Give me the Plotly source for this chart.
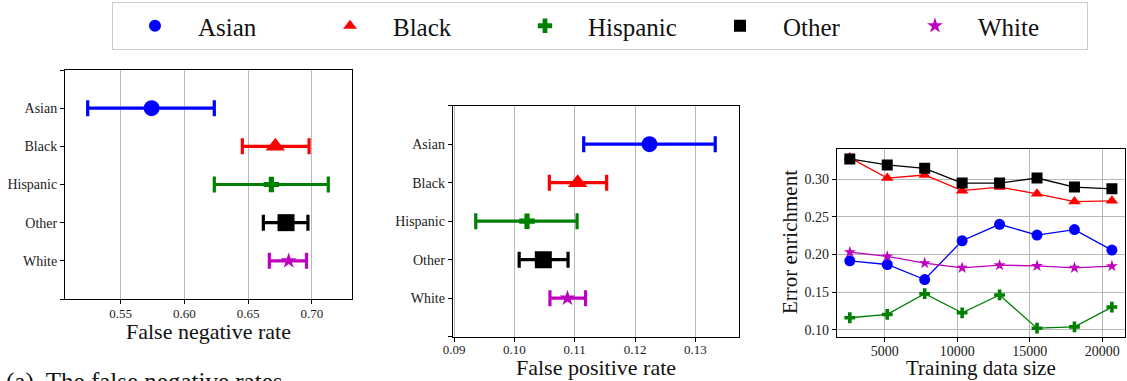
import plotly.graph_objects as go

W, H = 1127, 381
FONT = "Liberation Serif"

groups = ["Asian", "Black", "Hispanic", "Other", "White"]
colors = ["#0000ff", "#ff0000", "#008000", "#000000", "#bf00bf"]
symbols = ["circle", "triangle-up", "cross", "square", "star"]
big_sizes = [16, 17, 13, 17, 12]
small_sizes = [11, 11, 9, 11, 9]

# Panel (a): false negative rate, lower / point / upper
fnr_point = [0.5743, 0.6714, 0.6683, 0.6798, 0.6819]
fnr_low = [0.5241, 0.6455, 0.6235, 0.6620, 0.6667]
fnr_high = [0.6235, 0.6979, 0.7130, 0.6970, 0.6959]

# Panel (b): false positive rate
fpr_point = [0.1224, 0.1105, 0.1021, 0.1048, 0.1088]
fpr_low = [0.1115, 0.1058, 0.0936, 0.1008, 0.1059]
fpr_high = [0.1333, 0.1153, 0.1104, 0.1089, 0.1118]

# Panel (c): error enrichment vs training data size
train_size = [2583, 5166, 7749, 10332, 12915, 15498, 18081, 20664]
enrichment = {
    "Asian":    [0.1917, 0.1868, 0.1668, 0.2184, 0.2403, 0.2260, 0.2332, 0.2060],
    "Black":    [0.3290, 0.3018, 0.3058, 0.2850, 0.2898, 0.2808, 0.2705, 0.2715],
    "Hispanic": [0.1160, 0.1204, 0.1480, 0.1226, 0.1463, 0.1021, 0.1039, 0.1302],
    "Other":    [0.3272, 0.3192, 0.3147, 0.2951, 0.2951, 0.3018, 0.2898, 0.2875],
    "White":    [0.2033, 0.1975, 0.1886, 0.1824, 0.1859, 0.1850, 0.1824, 0.1846],
}

ytick_vals = [-1, 0, 1, 2, 3, 4, 5]
ytick_text = [""] + groups + [""]

fig = go.Figure()

for i, g in enumerate(groups):
    fig.add_trace(go.Scatter(
        x=[fnr_point[i]], y=[i], mode="markers", name=g, legendgroup=g,
        marker=dict(symbol=symbols[i], color=colors[i], size=big_sizes[i], line=dict(width=0)),
        error_x=dict(type="data", symmetric=False,
                     array=[fnr_high[i] - fnr_point[i]],
                     arrayminus=[fnr_point[i] - fnr_low[i]],
                     color=colors[i], thickness=3.2, width=8),
        xaxis="x", yaxis="y", showlegend=True,
    ))

for i, g in enumerate(groups):
    fig.add_trace(go.Scatter(
        x=[fpr_point[i]], y=[i], mode="markers", name=g, legendgroup=g,
        marker=dict(symbol=symbols[i], color=colors[i], size=big_sizes[i], line=dict(width=0)),
        error_x=dict(type="data", symmetric=False,
                     array=[fpr_high[i] - fpr_point[i]],
                     arrayminus=[fpr_point[i] - fpr_low[i]],
                     color=colors[i], thickness=3.2, width=8),
        xaxis="x2", yaxis="y2", showlegend=False,
    ))

for i, g in enumerate(groups):
    fig.add_trace(go.Scatter(
        x=train_size, y=enrichment[g], mode="lines+markers", name=g, legendgroup=g,
        line=dict(color=colors[i], width=1.3),
        marker=dict(symbol=symbols[i], color=colors[i], size=small_sizes[i], line=dict(width=0)),
        xaxis="x3", yaxis="y3", showlegend=False,
    ))

def px_x(a, b):
    return [a / W, b / W]

def px_y(top, bottom):
    return [1 - bottom / H, 1 - top / H]

def axis_common(size, standoff=0):
    return dict(showline=True, linecolor="black", linewidth=1, mirror=True,
                ticks="outside", ticklen=4, tickcolor="black", zeroline=False,
                automargin=False, ticklabelstandoff=standoff,
                tickfont=dict(family=FONT, size=size, color="#222"))

grid = dict(showgrid=True, gridcolor="#b8b8b8", gridwidth=1)

def label(text, x, y, size, angle=0):
    return dict(text=text, xref="paper", yref="paper", x=x / W, y=1 - y / H,
                xanchor="center", yanchor="middle", showarrow=False, textangle=angle,
                font=dict(family=FONT, size=size, color="#111"))

fig.update_layout(
    width=W, height=H, margin=dict(l=0, r=0, t=0, b=0, pad=0),
    paper_bgcolor="white", plot_bgcolor="white",
    font=dict(family=FONT, color="#222"),
    xaxis=dict(domain=px_x(65, 352), range=[0.5063, 0.7316], anchor="y",
               tickvals=[0.55, 0.60, 0.65, 0.70], tickformat=".2f", **grid, **axis_common(13, -2)),
    yaxis=dict(domain=px_y(70, 299), range=[5, -1], anchor="x",
               tickvals=ytick_vals, ticktext=ytick_text, showgrid=False, **axis_common(14)),
    xaxis2=dict(domain=px_x(452.7, 739), range=[0.08978, 0.13724], anchor="y2",
                tickvals=[0.09, 0.10, 0.11, 0.12, 0.13], tickformat=".2f", **grid, **axis_common(13, -3)),
    yaxis2=dict(domain=px_y(105.7, 336.7), range=[5, -1], anchor="x2",
                tickvals=ytick_vals, ticktext=ytick_text, showgrid=False, **axis_common(14)),
    xaxis3=dict(domain=px_x(836.7, 1125), range=[1679, 21568], anchor="y3",
                tickvals=[5000, 10000, 15000, 20000], tickformat="d", **grid, **axis_common(14, -3)),
    yaxis3=dict(domain=px_y(149, 336.7), range=[0.0908, 0.3404], anchor="x3",
                tickvals=[0.10, 0.15, 0.20, 0.25, 0.30], tickformat=".2f", **grid, **axis_common(14)),
    legend=dict(orientation="h", x=112 / W, xanchor="left", y=1 - 2 / H, yanchor="top",
                bgcolor="white", bordercolor="#cccccc", borderwidth=1,
                font=dict(family=FONT, size=25, color="#111"),
                itemsizing="constant", itemwidth=76, entrywidth=104, entrywidthmode="pixels"),
    annotations=[
        label("False negative rate", 208.5, 331, 22),
        label("False positive rate", 596, 367, 22),
        label("Training data size", 981, 368, 21),
        label("Error enrichment", 790, 242, 21, angle=-90),
        dict(text="(a)  The false negative rates", xref="paper", yref="paper",
             x=4 / W, y=1 - 366 / H, xanchor="left", yanchor="top", showarrow=False,
             font=dict(family=FONT, size=25, color="#111")),
    ],
)

fig.write_html("out.html", config={"displayModeBar": False},
               post_script="document.body.style.margin='0';document.body.style.overflow='hidden';")
